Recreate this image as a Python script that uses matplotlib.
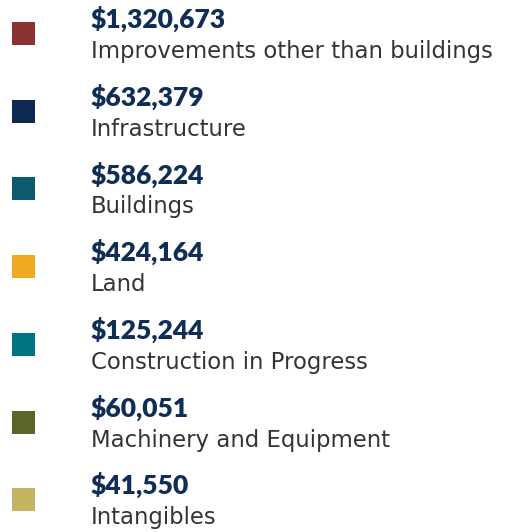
import matplotlib
matplotlib.use("Agg")
import matplotlib.pyplot as plt
from matplotlib.patches import Rectangle

# Capital assets by category
values = ["$1,320,673", "$632,379", "$586,224", "$424,164", "$125,244", "$60,051", "$41,550"]
labels = ["Improvements other than buildings", "Infrastructure", "Buildings", "Land",
          "Construction in Progress", "Machinery and Equipment", "Intangibles"]
colors = ["#8b3330", "#0e2a52", "#0b5a6f", "#eeab22", "#007380", "#5b6429", "#c4b561"]

W, H = 505, 532
fig = plt.figure(figsize=(W / 100, H / 100), dpi=100)
ax = fig.add_axes([0, 0, 1, 1])
ax.set_xlim(0, W)
ax.set_ylim(H, 0)
ax.axis("off")

step = 77.7
for i, (v, lab, c) in enumerate(zip(values, labels, colors)):
    top = 22 + step * i
    ax.add_patch(Rectangle((12, top), 23, 23, color=c, lw=0))
    ax.text(91, top + 6, v, fontsize=19, fontweight="heavy", family="Lato",
            color="#102d55", va="baseline", ha="left")
    ax.text(91, top + 36, lab, fontsize=16.4, family="DejaVu Sans",
            color="#333333", va="baseline", ha="left")

fig.savefig("out.png", dpi=100)
